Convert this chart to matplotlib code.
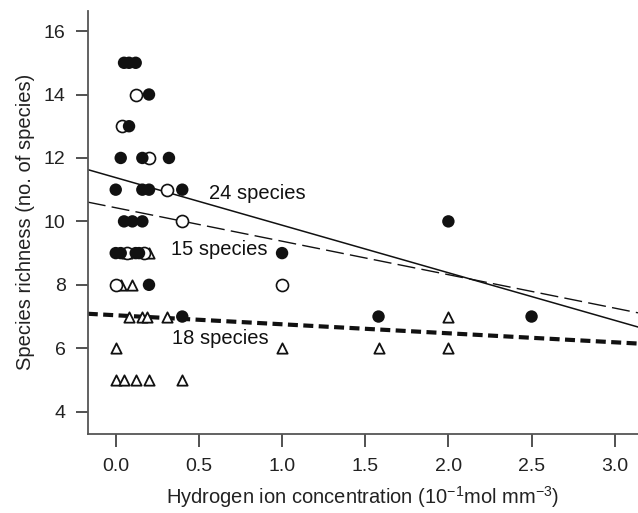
import numpy as np
import matplotlib
matplotlib.use("Agg")
from matplotlib import pyplot as plt

plt.rcParams['font.family'] = ['Liberation Sans', 'DejaVu Sans']
plt.rcParams['mathtext.default'] = 'regular'

# filled circles
filled_x = [0.05, 0.08, 0.12, 0.20, 0.08, 0.03, 0.16, 0.32, 0.00, 0.16, 0.20, 0.40,
            0.05, 0.10, 0.16, 0.00, 0.03, 0.12, 0.14, 1.00, 0.20, 0.40, 1.58, 2.50, 2.00]
filled_y = [15, 15, 15, 14, 13, 12, 12, 12, 11, 11, 11, 11,
            10, 10, 10, 9, 9, 9, 9, 9, 8, 7, 7, 7, 10]

# open circles
open_x = [0.12, 0.04, 0.20, 0.31, 0.40, 0.07, 0.17, 0.00, 1.00]
open_y = [14, 13, 12, 11, 10, 9, 9, 8, 8]

# triangles
tri_x = [0.07, 0.20, 0.03, 0.10, 0.08, 0.16, 0.19, 0.31, 2.00,
         0.00, 1.00, 1.58, 2.00, 0.00, 0.05, 0.12, 0.20, 0.40]
tri_y = [9, 9, 8, 8, 7, 7, 7, 7, 7,
         6, 6, 6, 6, 5, 5, 5, 5, 5]

# fitted lines: (intercept, slope)
fit_filled = (11.38, -1.50)
fit_open = (10.43, -1.055)
fit_tri = (7.04, -0.284)

xmin, xmax = -0.168, 3.14

fig = plt.figure(figsize=(6.38, 5.13), dpi=100)
ax = fig.add_axes([0.1376, 0.1542, 0.8624, 0.8248])

xl = np.array([xmin, xmax])
ax.plot(xl, fit_filled[0] + fit_filled[1] * xl, color='#111111', lw=1.1, zorder=2)
ax.plot(xl, fit_open[0] + fit_open[1] * xl, color='#111111', lw=1.0,
        dashes=(13, 4.5), zorder=2)
ax.plot(xl, fit_tri[0] + fit_tri[1] * xl, color='#111111', lw=3.0,
        dashes=(2.4, 1.3), zorder=2)

ax.scatter(tri_x, tri_y, marker='^', s=55, facecolors='white',
           edgecolors='#111111', linewidths=1.3, zorder=3)
ax.scatter(open_x, open_y, marker='o', s=75, facecolors='white',
           edgecolors='#111111', linewidths=1.2, zorder=3)
ax.scatter(filled_x, filled_y, marker='o', s=80, color='#111111',
           edgecolors='none', zorder=4)

ax.text(0.56, 10.88, '24 species', fontsize=14.5, va='center', color='#111111')
ax.text(0.33, 9.11, '15 species', fontsize=14.5, va='center', color='#111111')
ax.text(0.337, 6.30, '18 species', fontsize=14.5, va='center', color='#111111')

ax.set_xlim(xmin, xmax)
ax.set_ylim(3.30, 16.64)
ax.set_xticks([0.0, 0.5, 1.0, 1.5, 2.0, 2.5, 3.0])
ax.set_xticklabels(['0.0', '0.5', '1.0', '1.5', '2.0', '2.5', '3.0'])
ax.set_yticks([4, 6, 8, 10, 12, 14, 16])

for s in ['top', 'right']:
    ax.spines[s].set_visible(False)
for s in ['left', 'bottom']:
    ax.spines[s].set_color('#555555')
    ax.spines[s].set_linewidth(1.3)

ax.tick_params(axis='both', direction='out', length=9, width=1.2,
               color='#333333', labelsize=14, labelcolor='#222222')
ax.tick_params(axis='x', pad=8)
ax.tick_params(axis='y', pad=7)

ax.set_xlabel('Hydrogen ion concentration (10$^{-1}$mol mm$^{-3}$)',
              fontsize=14.5, color='#222222', labelpad=7)
ax.set_ylabel('Species richness (no. of species)', fontsize=14.5,
              color='#222222', labelpad=6)

fig.savefig('out.png', dpi=100)
